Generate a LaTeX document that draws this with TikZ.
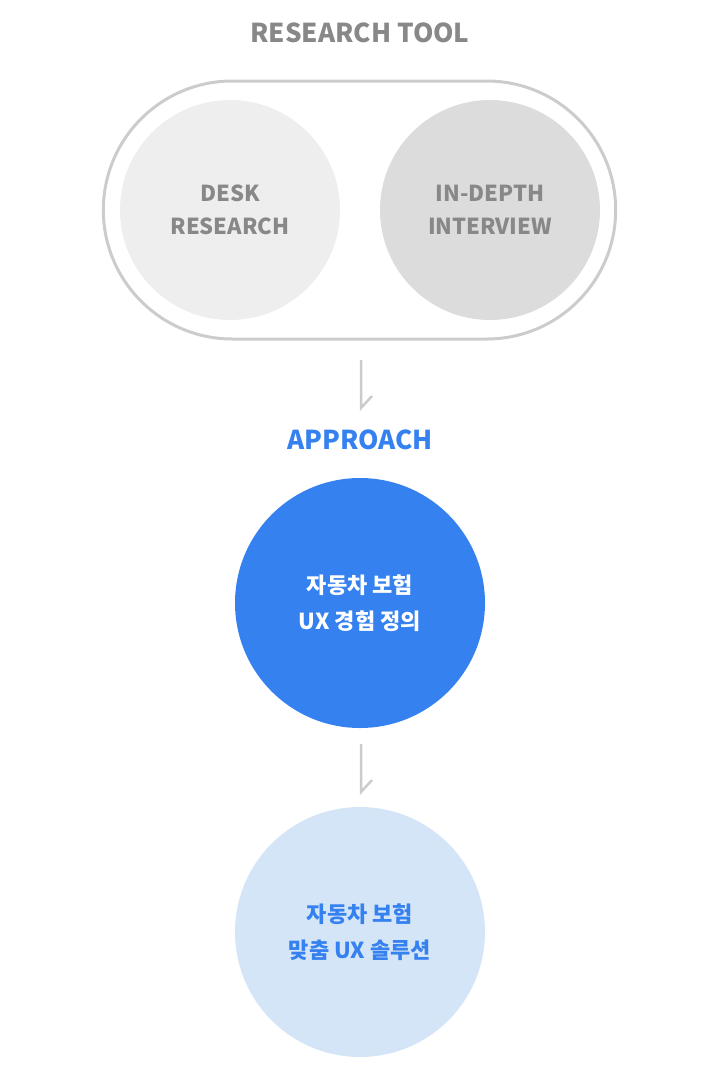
\documentclass[tikz,border=0pt]{standalone}
\usepackage{fontspec}
\setmainfont{Noto Sans CJK KR}
\usetikzlibrary{shapes.misc}
\definecolor{txtgrey}{HTML}{888888}
\definecolor{deskgrey}{HTML}{EEEEEE}
\definecolor{intgrey}{HTML}{DCDCDC}
\definecolor{linegrey}{HTML}{CCCCCC}
\definecolor{uxblue}{HTML}{3581F0}
\definecolor{uxlight}{HTML}{D5E5F8}
\begin{document}
\begin{tikzpicture}[x=1pt,y=-1pt]
	\tikzstyle{titre}=[font=\bfseries\fontsize{26}{30}\selectfont]
	\tikzstyle{outil}=[circle,minimum size=220pt,text=txtgrey,align=center,font=\bfseries\fontsize{22}{33}\selectfont]
	\tikzstyle{etape}=[circle,minimum size=250pt,align=center,font=\bfseries\fontsize{22}{36}\selectfont]
	\tikzstyle{fleche}=[draw=linegrey,line width=2.5pt]
	\useasboundingbox (0,0) rectangle (720,1077);
	\node[titre,text=txtgrey] (T) at (360,33){RESEARCH TOOL};
	\node[rounded rectangle,draw=linegrey,line width=3pt,minimum width=519pt,minimum height=258pt] (P) at (359.5,210){};
	\node[outil,fill=deskgrey] (D) at (230,210){DESK\\RESEARCH};
	\node[outil,fill=intgrey] (I) at (490,210){IN-DEPTH\\INTERVIEW};
	\node[titre,text=uxblue] (A) at (360,440){APPROACH};
	\node[etape,fill=uxblue,text=white] (U) at (360,603){자동차 보험\\UX 경험 정의};
	\node[etape,fill=uxlight,text=uxblue] (S) at (360,932){자동차 보험\\맞춤 UX 솔루션};
	% fleches
	\coordinate (f1) at (361,360);
	\coordinate (g1) at (361,408);
	\coordinate (f2) at (361,744);
	\coordinate (g2) at (361,792);
	\draw[fleche] (f1) -- (g1) -- ++(11,-12);
	\draw[fleche] (f2) -- (g2) -- ++(11,-12);
\end{tikzpicture}
\end{document}
